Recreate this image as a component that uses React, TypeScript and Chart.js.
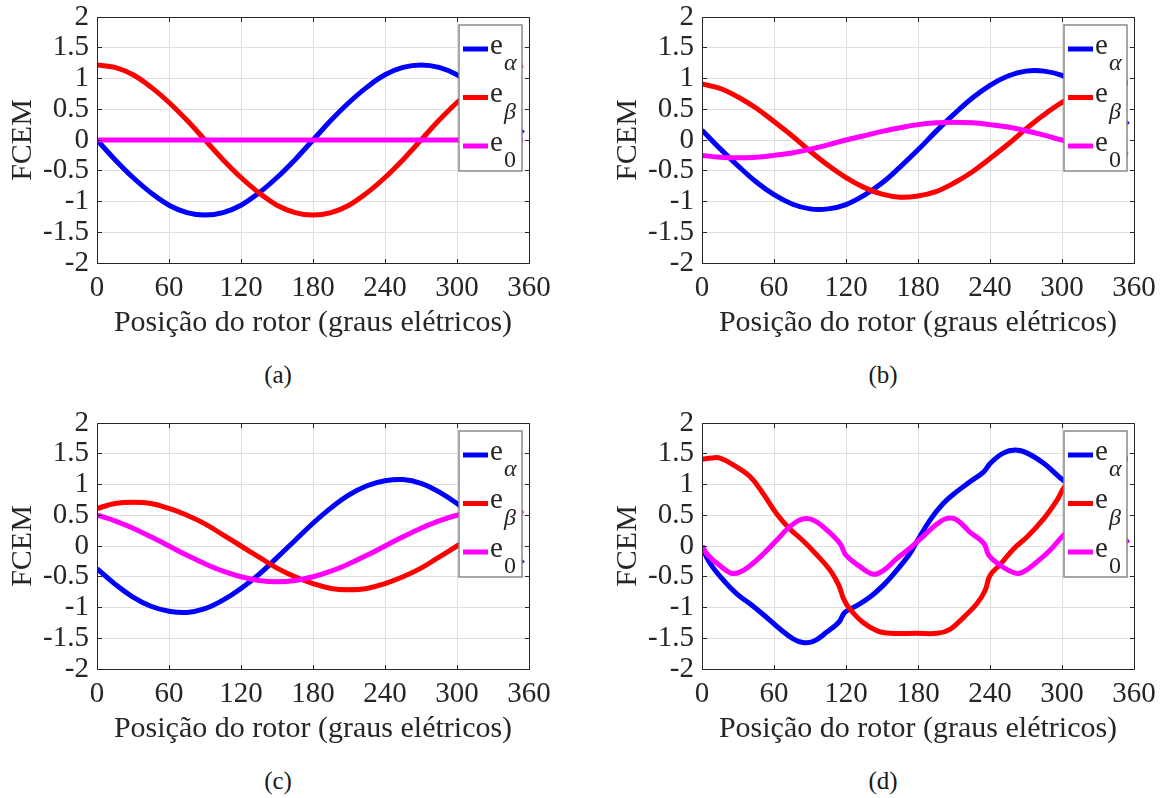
import React, { useEffect, useRef } from 'react';
import { Chart, registerables } from 'chart.js';

Chart.register(...registerables);

// ---------------- data ----------------
const xTicks = [0, 60, 120, 180, 240, 300, 360];
const yTicks = [-2, -1.5, -1, -0.5, 0, 0.5, 1, 1.5, 2];
const xLabel = 'Posição do rotor (graus elétricos)';
const yLabel = 'FCEM';
const seriesBase = 'e';
const seriesSubs = ['α', 'β', '0'];
const seriesSubItalic = [true, true, false];
const seriesColors = ['#0000ff', '#ff0000', '#ff00ff'];
const panelCaptions = ['(a)', '(b)', '(c)', '(d)'];

// common angle grid for panels (a)-(c)
const angles = [0, 15, 30, 45, 60, 75, 90, 105, 120, 135, 150, 165, 180, 195, 210, 225, 240, 255, 270, 285, 300, 315, 330, 345, 355];

// panel (a)
const aAlpha = [0, -0.32, -0.61, -0.86, -1.06, -1.18, -1.22, -1.18, -1.06, -0.86, -0.61, -0.32, 0, 0.32, 0.61, 0.86, 1.06, 1.18, 1.22, 1.18, 1.06, 0.86, 0.61, 0.32, 0.11];
const aBeta = [1.22, 1.18, 1.06, 0.86, 0.61, 0.32, 0, -0.32, -0.61, -0.86, -1.06, -1.18, -1.22, -1.18, -1.06, -0.86, -0.61, -0.32, 0, 0.32, 0.61, 0.86, 1.06, 1.18, 1.22];
const aZero = [0, 0, 0, 0, 0, 0, 0, 0, 0, 0, 0, 0, 0, 0, 0, 0, 0, 0, 0, 0, 0, 0, 0, 0, 0];

// panel (b)
const bAlpha = [0.16, -0.14, -0.42, -0.68, -0.89, -1.04, -1.12, -1.12, -1.05, -0.9, -0.7, -0.44, -0.16, 0.14, 0.42, 0.68, 0.89, 1.04, 1.12, 1.12, 1.05, 0.9, 0.7, 0.44, 0.25];
const bBeta = [0.91, 0.84, 0.7, 0.52, 0.3, 0.07, -0.18, -0.41, -0.61, -0.77, -0.88, -0.93, -0.91, -0.84, -0.7, -0.52, -0.3, -0.07, 0.18, 0.41, 0.61, 0.77, 0.88, 0.93, 0.93];
const bZero = [-0.25, -0.28, -0.29, -0.28, -0.25, -0.21, -0.15, -0.08, 0, 0.07, 0.14, 0.2, 0.25, 0.28, 0.29, 0.28, 0.25, 0.21, 0.15, 0.08, 0, -0.07, -0.14, -0.2, -0.23];

// panel (c)
const cAlpha = [-0.37, -0.62, -0.83, -0.98, -1.06, -1.08, -1.02, -0.88, -0.69, -0.46, -0.19, 0.09, 0.37, 0.62, 0.83, 0.98, 1.06, 1.08, 1.02, 0.88, 0.69, 0.46, 0.19, -0.09, -0.28];
const cBeta = [0.61, 0.69, 0.71, 0.69, 0.61, 0.5, 0.36, 0.18, 0, -0.18, -0.36, -0.5, -0.61, -0.69, -0.71, -0.69, -0.61, -0.5, -0.36, -0.18, 0, 0.18, 0.36, 0.5, 0.58];
const cZero = [0.5, 0.41, 0.29, 0.15, 0, -0.15, -0.29, -0.41, -0.5, -0.56, -0.58, -0.56, -0.5, -0.41, -0.29, -0.15, 0, 0.15, 0.29, 0.41, 0.5, 0.56, 0.58, 0.56, 0.53];

// panel (d) (read at irregular angles)
const dAlphaX = [0, 6, 18, 29, 40, 52, 65, 76, 84, 93, 104, 114, 119, 129, 140, 151, 162, 173, 179, 190, 201, 212, 223, 235, 240, 251, 261, 271, 285, 301, 315, 330, 345, 355];
const dAlpha = [0, -0.26, -0.56, -0.78, -0.94, -1.13, -1.35, -1.51, -1.57, -1.55, -1.4, -1.24, -1.08, -0.97, -0.83, -0.64, -0.4, -0.13, 0.07, 0.42, 0.69, 0.88, 1.04, 1.21, 1.34, 1.51, 1.56, 1.51, 1.34, 1.07, 0.9, 0.66, 0.3, 0.05];
const dBetaX = [0, 8, 15, 26, 40, 51, 62, 73, 84, 95, 107, 114, 118, 123, 134, 146, 157, 179, 196, 207, 218, 229, 236, 240, 249, 260, 271, 285, 296, 302, 315, 330, 345, 355];
const dBeta = [1.41, 1.43, 1.43, 1.32, 1.13, 0.85, 0.53, 0.28, 0.09, -0.13, -0.4, -0.64, -0.86, -1.02, -1.24, -1.38, -1.42, -1.42, -1.42, -1.35, -1.16, -0.94, -0.72, -0.48, -0.29, -0.04, 0.15, 0.45, 0.75, 0.96, 1.25, 1.4, 1.42, 1.42];
const dZeroX = [0, 5, 15, 24, 31, 40, 51, 62, 73, 84, 93, 104, 115, 120, 132, 143, 151, 162, 173, 185, 196, 204, 212, 223, 235, 239, 249, 261, 268, 279, 290, 301, 313, 324, 335, 345, 355];
const dZero = [0, -0.15, -0.32, -0.44, -0.43, -0.32, -0.13, 0.09, 0.31, 0.44, 0.42, 0.26, 0.04, -0.15, -0.34, -0.46, -0.4, -0.21, -0.04, 0.17, 0.36, 0.45, 0.43, 0.23, 0.04, -0.15, -0.32, -0.44, -0.42, -0.26, -0.07, 0.17, 0.36, 0.44, 0.42, 0.25, 0.04];

const panels = [
  { series: [{ x: angles, y: aAlpha }, { x: angles, y: aBeta }, { x: angles, y: aZero }] },
  { series: [{ x: angles, y: bAlpha }, { x: angles, y: bBeta }, { x: angles, y: bZero }] },
  { series: [{ x: angles, y: cAlpha }, { x: angles, y: cBeta }, { x: angles, y: cZero }] },
  { series: [{ x: dAlphaX, y: dAlpha }, { x: dBetaX, y: dBeta }, { x: dZeroX, y: dZero }] },
];

// ---------------- styling ----------------
const FONT = '"Liberation Serif", "Times New Roman", serif';
const TEXT = '#262626';
const CW = 560;
const CH = 350;

function alignPx(p: number, w: number) {
  const h = w / 2;
  return Math.round(p - h) + h;
}

const framePlugin = {
  id: 'matlabFrame',
  afterDatasetsDraw(chart: any) {
    const { ctx, chartArea: ca, scales } = chart;
    ctx.save();
    ctx.strokeStyle = TEXT;
    ctx.lineWidth = 1;
    const L = alignPx(ca.left, 1);
    const R = alignPx(ca.right, 1);
    const T = alignPx(ca.top, 1);
    const B = alignPx(ca.bottom, 1);
    ctx.beginPath();
    ctx.rect(L, T, R - L, B - T);
    const tl = 4.5;
    scales.x.ticks.forEach((t: any) => {
      const px = alignPx(scales.x.getPixelForValue(t.value), 1);
      ctx.moveTo(px, B);
      ctx.lineTo(px, B - tl);
      ctx.moveTo(px, T);
      ctx.lineTo(px, T + tl);
    });
    scales.y.ticks.forEach((t: any) => {
      const py = alignPx(scales.y.getPixelForValue(t.value), 1);
      ctx.moveTo(L, py);
      ctx.lineTo(L + tl, py);
      ctx.moveTo(R, py);
      ctx.lineTo(R - tl, py);
    });
    ctx.stroke();
    ctx.restore();
  },
};

const legendPlugin = {
  id: 'matlabLegend',
  afterDraw(chart: any) {
    const { ctx, chartArea: ca } = chart;
    const lx = ca.right - 70;
    const ly = ca.top + 8;
    const w = 63;
    const h = 146;
    ctx.save();
    ctx.fillStyle = '#ffffff';
    ctx.fillRect(lx, ly, w, h);
    ctx.strokeStyle = '#8a8a8a';
    ctx.lineWidth = 1.5;
    ctx.strokeRect(lx, ly, w, h);
    chart.data.datasets.forEach((ds: any, i: number) => {
      const y = ly + 24 + i * 48.5;
      ctx.strokeStyle = ds.borderColor;
      ctx.lineWidth = 5;
      ctx.lineCap = 'butt';
      ctx.beginPath();
      ctx.moveTo(lx + 4, y);
      ctx.lineTo(lx + 29, y);
      ctx.stroke();
      ctx.fillStyle = TEXT;
      ctx.textBaseline = 'alphabetic';
      ctx.textAlign = 'left';
      ctx.font = `29px ${FONT}`;
      ctx.fillText(seriesBase, lx + 31, y + 4.5);
      ctx.font = `${seriesSubItalic[i] ? 'italic ' : ''}24px ${FONT}`;
      ctx.fillText(seriesSubs[i], lx + 45, y + 21);
    });
    ctx.restore();
  },
};

function Panel({ index }: { index: number }) {
  const ref = useRef<HTMLCanvasElement>(null);
  useEffect(() => {
    const panel = panels[index];
    const chart = new Chart(ref.current as HTMLCanvasElement, {
      type: 'line',
      data: {
        datasets: panel.series.map((s, i) => ({
          label: seriesBase + seriesSubs[i],
          data: s.x.map((x, j) => ({ x, y: s.y[j] })),
          borderColor: seriesColors[i],
          backgroundColor: seriesColors[i],
          borderWidth: 5,
          pointRadius: 0,
          fill: false,
          tension: 0.4,
          borderCapStyle: 'butt',
          borderJoinStyle: 'round',
          order: 3 - i,
        })),
      },
      options: {
        responsive: false,
        animation: false,
        devicePixelRatio: 1,
        events: [],
        layout: { padding: { left: 0, top: 17, right: 31, bottom: 9 } },
        plugins: {
          legend: { display: false },
          tooltip: { enabled: false },
        },
        scales: {
          x: {
            type: 'linear',
            min: 0,
            max: 360,
            afterBuildTicks: (s: any) => {
              s.ticks = xTicks.map((v) => ({ value: v }));
            },
            afterFit: (s: any) => {
              s.height = 78;
              s.paddingLeft = 0;
              s.paddingRight = 0;
            },
            grid: { color: '#dfdfdf', lineWidth: 1, drawTicks: false },
            border: { display: false },
            ticks: {
              padding: 8,
              color: TEXT,
              font: { family: FONT, size: 29 },
              maxRotation: 0,
              autoSkip: false,
              callback: (v: any) => String(v),
            },
            title: {
              display: true,
              text: xLabel,
              color: TEXT,
              font: { family: FONT, size: 30 },
              padding: { top: 0, bottom: 0 },
            },
          },
          y: {
            type: 'linear',
            min: -2,
            max: 2,
            afterBuildTicks: (s: any) => {
              s.ticks = yTicks.map((v) => ({ value: v }));
            },
            afterFit: (s: any) => {
              s.width = 97;
              s.paddingTop = 0;
              s.paddingBottom = 0;
            },
            grid: { color: '#dfdfdf', lineWidth: 1, drawTicks: false },
            border: { display: false },
            ticks: {
              padding: 8,
              color: TEXT,
              font: { family: FONT, size: 29 },
              autoSkip: false,
              callback: (v: any) => String(v),
            },
            title: {
              display: true,
              text: yLabel,
              color: TEXT,
              font: { family: FONT, size: 30 },
              padding: { top: 5, bottom: 0 },
            },
          },
        },
      } as any,
      plugins: [framePlugin, legendPlugin],
    });
    return () => chart.destroy();
  }, [index]);

  const col = index % 2;
  const row = Math.floor(index / 2);
  return (
    <div style={{ position: 'absolute', left: col * 605, top: row * 406, width: CW, height: 400 }}>
      <canvas ref={ref} width={CW} height={CH} style={{ position: 'absolute', left: 0, top: 0, width: CW, height: CH }} />
      <div
        style={{
          position: 'absolute',
          left: 0,
          top: 362,
          width: 556,
          textAlign: 'center',
          fontFamily: FONT,
          fontSize: 25,
          lineHeight: '25px',
          color: '#1a1a1a',
        }}
      >
        {panelCaptions[index]}
      </div>
    </div>
  );
}

export default function App() {
  return (
    <div style={{ position: 'fixed', left: 0, top: 0, width: 1160, height: 798, background: '#ffffff', overflow: 'hidden' }}>
      {panels.map((_, i) => (
        <Panel key={i} index={i} />
      ))}
    </div>
  );
}
